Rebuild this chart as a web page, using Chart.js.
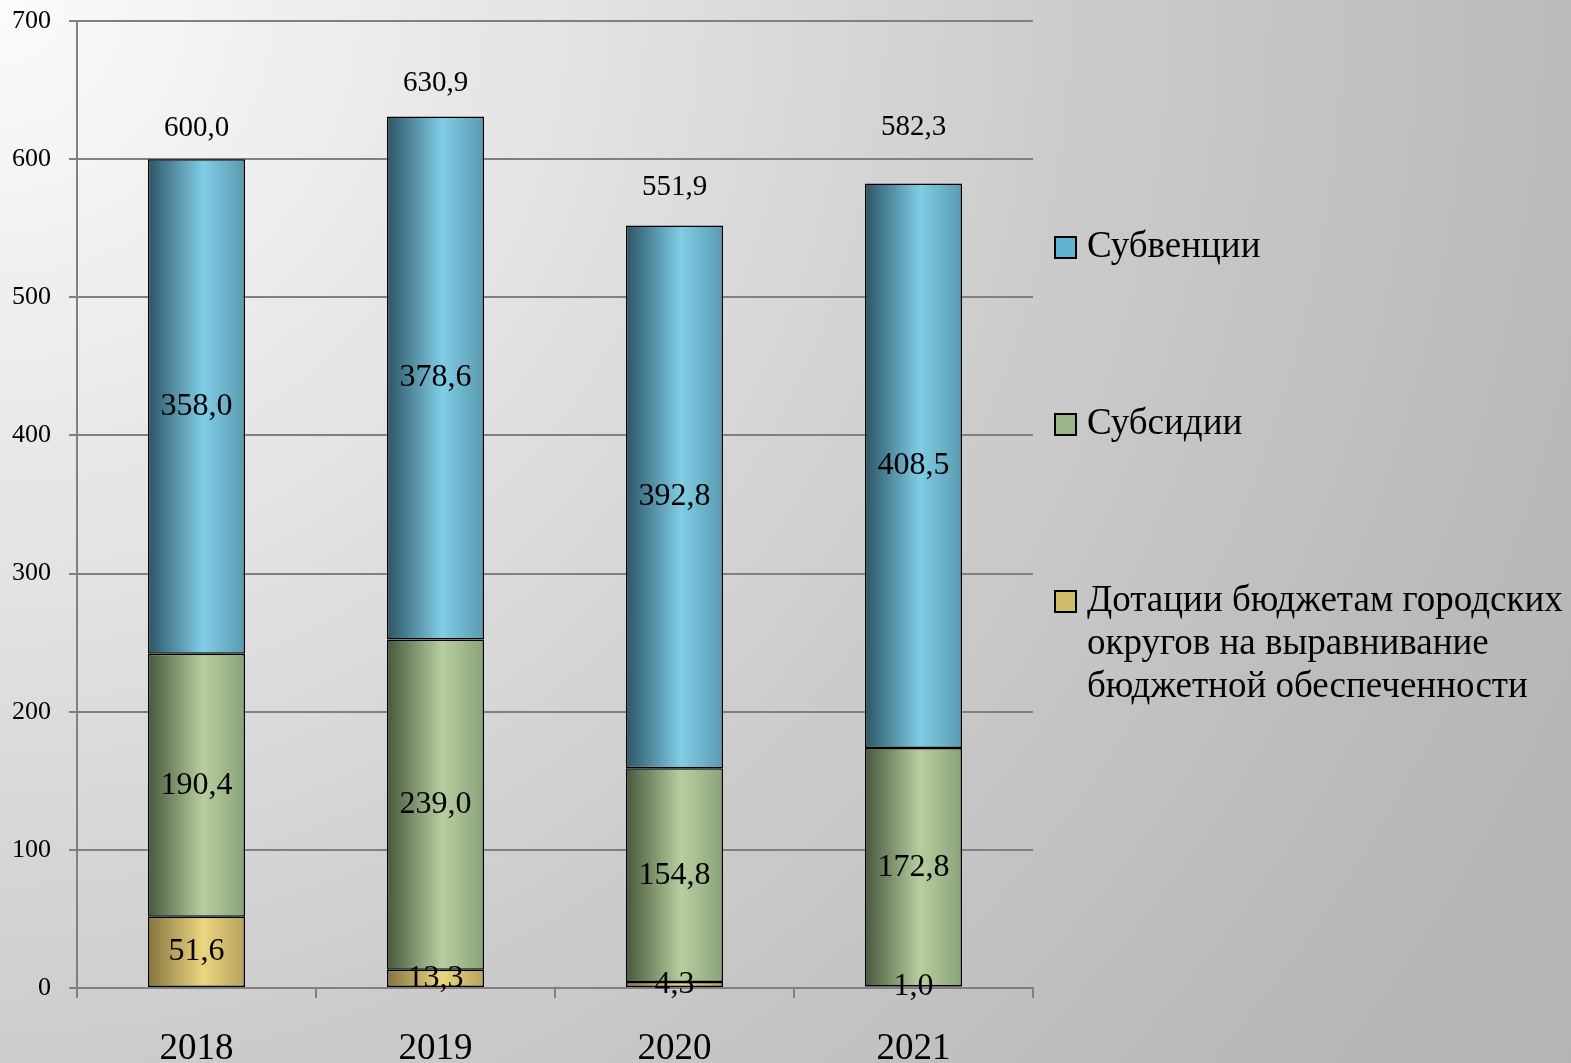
<!DOCTYPE html>
<html>
<head>
<meta charset="utf-8">
<script src="https://cdn.jsdelivr.net/npm/chart.js@4/dist/chart.umd.min.js"></script>
<style>
  html, body { margin: 0; padding: 0; }
  body {
    width: 1571px; height: 1063px; overflow: hidden; position: relative;
    background: radial-gradient(circle at 0 0, #fbfbfb 0px, #e2e2e2 600px, #cccccc 1063px, #bababa 1571px, #b4b4b4 1900px);
    font-family: "Liberation Serif", "DejaVu Serif", serif;
  }
  #wrap { position: absolute; left: 0; top: 0; width: 1571px; height: 1063px; }
  #legend { position: absolute; left: 1054px; top: 223px; }
  .item { display: flex; align-items: flex-start; margin-bottom: 134px; }
  .sw { width: 19px; height: 19px; border: 2px solid #000; margin-top: 13px; margin-right: 10px; flex: none; }
  .txt { font-size: 37px; line-height: 43px; color: #000; white-space: pre; }
</style>
</head>
<body>
<div id="wrap"><canvas id="c" width="1571" height="1063"></canvas></div>
<div id="legend"></div>
<script>
const categories = ['2018', '2019', '2020', '2021'];
const dotacii   = [51.6, 13.3, 4.3, 1.0];
const subsidii  = [190.4, 239.0, 154.8, 172.8];
const subvencii = [358.0, 378.6, 392.8, 408.5];
const yTickValues = [0, 100, 200, 300, 400, 500, 600, 700];

const seriesNames = [
  'Дотации бюджетам городских\nокругов на выравнивание\nбюджетной обеспеченности',
  'Субсидии',
  'Субвенции'
];
// style: gradient stops (left, highlight, right) and legend swatch colours
const seriesStops = [
  ['#857440', '#ecd67f', '#b5a25f'],
  ['#47583c', '#b7cf9f', '#8aa279'],
  ['#2c5566', '#80cde6', '#5a9ab0']
];
const swatchColors = ['#d2bc6a', '#9bb589', '#62b3cf'];
const totalLabelLift = [31, 33, 38, 56];
const barFrac = 0.406;

function fmt(v) { return v.toFixed(1).replace('.', ','); }

function barGradient(stops) {
  return (ctx) => {
    const chart = ctx.chart;
    const xs = chart.scales && chart.scales.x;
    if (!chart.chartArea || !xs || ctx.dataIndex === undefined) return stops[1];
    const cx = xs.getPixelForValue(ctx.dataIndex);
    const w = (xs.width / categories.length) * barFrac;
    const g = chart.ctx.createLinearGradient(cx - w / 2, 0, cx + w / 2, 0);
    g.addColorStop(0, stops[0]);
    g.addColorStop(0.57, stops[1]);
    g.addColorStop(1, stops[2]);
    return g;
  };
}

const seriesData = [dotacii, subsidii, subvencii];
const datasets = seriesData.map((d, i) => ({
  label: seriesNames[i],
  data: d,
  backgroundColor: barGradient(seriesStops[i]),
  borderColor: '#000',
  borderWidth: 1.5,
  borderSkipped: false,
  categoryPercentage: 1,
  barPercentage: barFrac
}));

const labelPlugin = {
  id: 'labels',
  afterDatasetsDraw(chart) {
    const ctx = chart.ctx;
    ctx.save();
    ctx.fillStyle = '#000';
    ctx.textAlign = 'center';
    ctx.textBaseline = 'middle';
    ctx.font = '32px "Liberation Serif"';
    chart.data.datasets.forEach((ds, di) => {
      const meta = chart.getDatasetMeta(di);
      meta.data.forEach((el, i) => {
        const y = (el.y + el.base) / 2;
        ctx.fillText(fmt(ds.data[i]), el.x, y);
      });
    });
    ctx.font = '29px "Liberation Serif"';
    const last = chart.getDatasetMeta(chart.data.datasets.length - 1);
    categories.forEach((c, i) => {
      const total = seriesData.reduce((s, arr) => s + arr[i], 0);
      const el = last.data[i];
      ctx.fillText(fmt(total), el.x, el.y - totalLabelLift[i]);
    });
    ctx.restore();
  }
};

const gridColor = '#808080';
new Chart(document.getElementById('c'), {
  type: 'bar',
  data: { labels: categories, datasets },
  options: {
    responsive: false,
    devicePixelRatio: 1,
    animation: false,
    layout: { padding: { left: 0, right: 538, top: 21, bottom: 0 } },
    plugins: { legend: { display: false }, tooltip: { enabled: false } },
    scales: {
      x: {
        stacked: true,
        grid: { offset: true, drawOnChartArea: false, drawTicks: true, tickLength: 10, color: gridColor, lineWidth: 2 },
        border: { display: true, color: gridColor, width: 2 },
        ticks: { color: '#000', font: { family: 'Liberation Serif', size: 37 }, padding: 29 },
        afterFit(s) { s.height = 75; s.paddingLeft = 0; s.paddingRight = 0; }
      },
      y: {
        stacked: true,
        min: 0, max: 700,
        afterBuildTicks(s) { s.ticks = yTickValues.map(v => ({ value: v })); },
        grid: { color: gridColor, lineWidth: 2, drawTicks: true, tickLength: 8 },
        border: { display: true, color: gridColor, width: 2 },
        ticks: { color: '#000', font: { family: 'Liberation Serif', size: 26 }, padding: 18 },
        afterFit(s) { s.width = 77; s.paddingTop = 0; s.paddingBottom = 0; }
      }
    }
  },
  plugins: [labelPlugin]
});

const legend = document.getElementById('legend');
[2, 1, 0].forEach(i => {
  const item = document.createElement('div');
  item.className = 'item';
  const sw = document.createElement('div');
  sw.className = 'sw';
  sw.style.background = swatchColors[i];
  const t = document.createElement('div');
  t.className = 'txt';
  t.textContent = seriesNames[i];
  item.appendChild(sw); item.appendChild(t);
  legend.appendChild(item);
});
</script>
</body>
</html>
